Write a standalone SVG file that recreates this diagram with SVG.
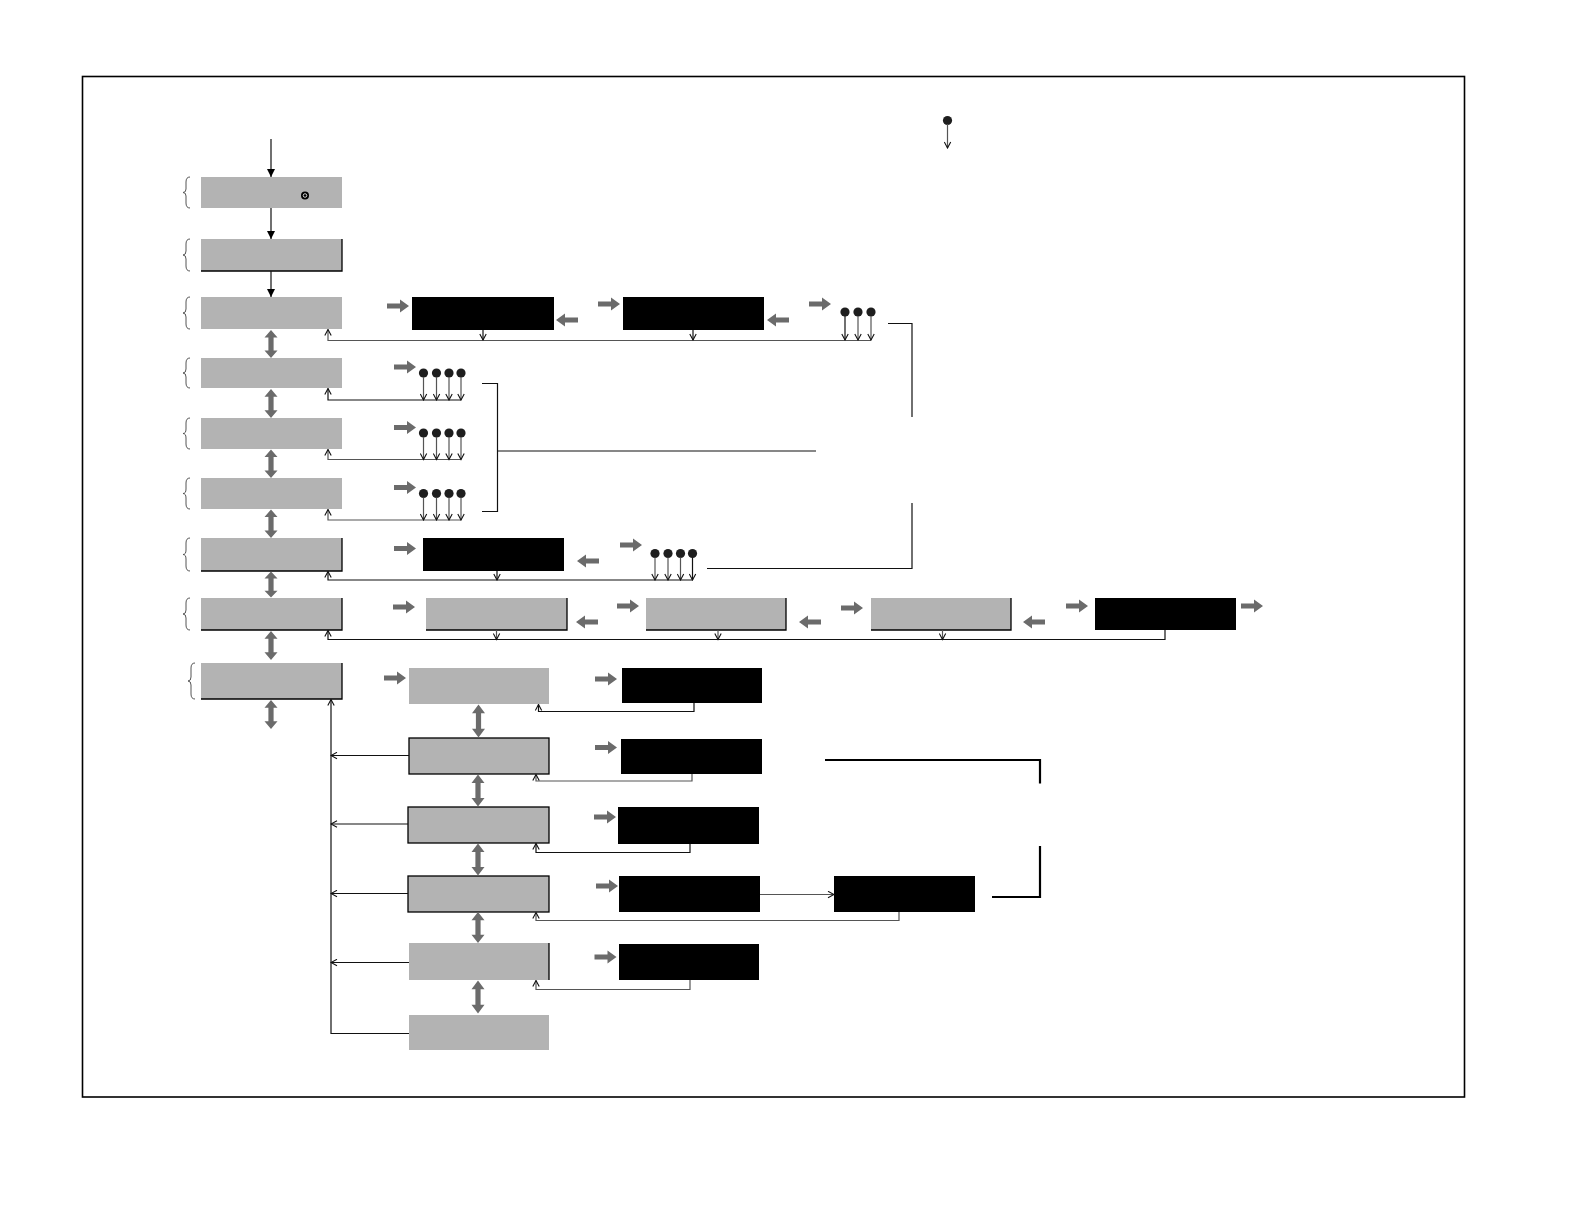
<svg xmlns="http://www.w3.org/2000/svg" width="1584" height="1224" viewBox="0 0 1584 1224">
<style>
.g{fill:#b3b3b3}
.k{fill:#000}
.bd{fill:none;stroke:#000;stroke-width:1.3}
.ln{fill:none;stroke:#111;stroke-width:1.2}
.lg{fill:none;stroke:#555;stroke-width:1.2}
.th{fill:none;stroke:#000;stroke-width:2.2}
.br{fill:none;stroke:#555;stroke-width:1}
.ga{fill:#6b6b6b}
.pin{fill:#1e1e1e}
</style>
<defs>
<marker id="oa" viewBox="0 0 8 8" refX="7" refY="4" markerWidth="8" markerHeight="8" markerUnits="userSpaceOnUse" orient="auto"><path d="M1,0.8 L7,4 L1,7.2" fill="none" stroke="#111" stroke-width="1.1"/></marker>
<marker id="fa" viewBox="0 0 10 10" refX="10" refY="5" markerWidth="10" markerHeight="8" markerUnits="userSpaceOnUse" orient="auto"><path d="M0,0 L10,5 L0,10 Z" fill="#000"/></marker>
<path id="ra" d="M0,-2.6 H13 V-6.5 L22,0 L13,6.5 V2.6 H0 Z"/>
<path id="la" d="M22,-2.6 H9 V-6.5 L0,0 L9,6.5 V2.6 H22 Z"/>
<path id="da" d="M0,0 L6.5,8 H2.6 V22 H6.5 L0,30 L-6.5,22 H-2.6 V8 H-6.5 Z"/>
<g id="pinsym"><circle cx="0" cy="0" r="4.6" class="pin"/></g>
</defs>
<rect x="0" y="0" width="1584" height="1224" fill="#fff"/>
<rect x="82.5" y="76.5" width="1382" height="1020.5" fill="none" stroke="#000" stroke-width="1.6"/>

<!-- legend pin -->
<g id="legend-pin">
<use href="#pinsym" x="947.5" y="120.5"/>
<line x1="947.5" y1="124" x2="947.5" y2="148" class="lg" marker-end="url(#oa)"/>
</g>

<!-- left column nodes -->
<g id="n1"><rect x="201" y="177" width="141" height="31" class="g"/><circle cx="305" cy="195.5" r="4" fill="#000"/><circle cx="305" cy="195.5" r="1.8" fill="none" stroke="#fff" stroke-width="0.8"/><path class="br" d="M190,177 Q186,177 186,182 V189 Q186,192.5 183,192.5 Q186,192.5 186,196 V203 Q186,208 190,208"/></g>
<g id="n2"><rect x="201" y="239" width="141" height="32" class="g"/><path class="bd" d="M342,239 V271 H201"/><path class="br" d="M190,239 Q186,239 186,244 V251 Q186,255 183,255 Q186,255 186,259 V266 Q186,271 190,271"/></g>
<g id="n3"><rect x="201" y="297" width="141" height="32" class="g"/><path class="br" d="M190,297 Q186,297 186,302 V309 Q186,313 183,313 Q186,313 186,317 V324 Q186,329 190,329"/></g>
<g id="n4"><rect x="201" y="358" width="141" height="30" class="g"/><path class="br" d="M190,358 Q186,358 186,363 V369 Q186,373 183,373 Q186,373 186,377 V383 Q186,388 190,388"/></g>
<g id="n5"><rect x="201" y="418" width="141" height="31" class="g"/><path class="br" d="M190,418 Q186,418 186,423 V429 Q186,433.5 183,433.5 Q186,433.5 186,438 V444 Q186,449 190,449"/></g>
<g id="n6"><rect x="201" y="478" width="141" height="31" class="g"/><path class="br" d="M190,478 Q186,478 186,483 V489 Q186,493.5 183,493.5 Q186,493.5 186,498 V504 Q186,509 190,509"/></g>
<g id="n7"><rect x="201" y="538" width="141" height="33" class="g"/><path class="bd" d="M342,538 V571 H201"/><path class="br" d="M190,538 Q186,538 186,543 V550 Q186,554.5 183,554.5 Q186,554.5 186,559 V566 Q186,571 190,571"/></g>
<g id="n8"><rect x="201" y="598" width="141" height="32" class="g"/><path class="bd" d="M342,598 V630 H201"/><path class="br" d="M190,598 Q186,598 186,603 V610 Q186,614 183,614 Q186,614 186,618 V625 Q186,630 190,630"/></g>
<g id="n9"><rect x="201" y="663" width="141" height="36" class="g"/><path class="bd" d="M342,663 V699 H201"/><path class="br" d="M195,663 Q191,663 191,668 V677 Q191,681 188,681 Q191,681 191,685 V694 Q191,699 195,699"/></g>

<!-- row 3 nodes -->
<g id="r3a"><rect x="412" y="297" width="142" height="33" class="k"/></g>
<g id="r3b"><rect x="623" y="297" width="141" height="33" class="k"/></g>
<g id="r7a"><rect x="423" y="538" width="141" height="33" class="k"/></g>
<g id="r8a"><rect x="426" y="598" width="141" height="32" class="g"/><path class="bd" d="M567,598 V630 H426"/></g>
<g id="r8b"><rect x="646" y="598" width="140" height="32" class="g"/><path class="bd" d="M786,598 V630 H646"/></g>
<g id="r8c"><rect x="871" y="598" width="140" height="32" class="g"/><path class="bd" d="M1011,598 V630 H871"/></g>
<g id="r8d"><rect x="1095" y="598" width="141" height="32" class="k"/></g>

<!-- sub column -->
<g id="s1"><rect x="409" y="668" width="140" height="36" class="g"/></g>
<g id="s2"><rect x="409" y="738" width="140" height="36" class="g"/><rect x="409" y="738" width="140" height="36" class="bd"/></g>
<g id="s3"><rect x="408" y="807" width="141" height="36" class="g"/><rect x="408" y="807" width="141" height="36" class="bd"/></g>
<g id="s4"><rect x="408" y="876" width="141" height="36" class="g"/><rect x="408" y="876" width="141" height="36" class="bd"/></g>
<g id="s5"><rect x="409" y="943" width="140" height="37" class="g"/><path class="bd" d="M549,943 V980"/></g>
<g id="s6"><rect x="409" y="1015" width="140" height="35" class="g"/></g>
<g id="k1"><rect x="622" y="668" width="140" height="35" class="k"/></g>
<g id="k2"><rect x="621" y="739" width="141" height="35" class="k"/></g>
<g id="k3"><rect x="618" y="807" width="141" height="37" class="k"/></g>
<g id="k4"><rect x="619" y="876" width="141" height="36" class="k"/></g>
<g id="k5"><rect x="834" y="876" width="141" height="36" class="k"/></g>
<g id="k6"><rect x="619" y="944" width="140" height="36" class="k"/></g>

<!-- pins -->
<g id="pins3">
<use href="#pinsym" x="845" y="312"/><use href="#pinsym" x="858" y="312"/><use href="#pinsym" x="871" y="312"/>
</g>
<g id="pins4">
<use href="#pinsym" x="423.5" y="373"/><use href="#pinsym" x="436.5" y="373"/><use href="#pinsym" x="449" y="373"/><use href="#pinsym" x="461" y="373"/>
</g>
<g id="pins5">
<use href="#pinsym" x="423.5" y="433"/><use href="#pinsym" x="436.5" y="433"/><use href="#pinsym" x="449" y="433"/><use href="#pinsym" x="461" y="433"/>
</g>
<g id="pins6">
<use href="#pinsym" x="423.5" y="493.5"/><use href="#pinsym" x="436.5" y="493.5"/><use href="#pinsym" x="449" y="493.5"/><use href="#pinsym" x="461" y="493.5"/>
</g>
<g id="pins7">
<use href="#pinsym" x="655" y="553.5"/><use href="#pinsym" x="668" y="553.5"/><use href="#pinsym" x="680.5" y="553.5"/><use href="#pinsym" x="692.5" y="553.5"/>
</g>

<!-- connectors -->
<g id="connectors">
<line x1="271" y1="139" x2="271" y2="177" class="ln" marker-end="url(#fa)"/>
<line x1="271" y1="208" x2="271" y2="239" class="ln" marker-end="url(#fa)"/>
<line x1="271" y1="271" x2="271" y2="297" class="ln" marker-end="url(#fa)"/>

<use href="#da" transform="translate(271,330) scale(1,0.93)" class="ga"/>
<use href="#da" transform="translate(271,389) scale(1,0.97)" class="ga"/>
<use href="#da" transform="translate(271,449.5) scale(1,0.95)" class="ga"/>
<use href="#da" transform="translate(271,509.5) scale(1,0.95)" class="ga"/>
<use href="#da" transform="translate(271,571.5) scale(1,0.87)" class="ga"/>
<use href="#da" transform="translate(271,631) scale(1,0.97)" class="ga"/>
<use href="#da" transform="translate(271,700) scale(1,0.97)" class="ga"/>

<use href="#da" transform="translate(478.5,704.5) scale(1,1.1)" class="ga"/>
<use href="#da" transform="translate(478,774.5) scale(1,1.07)" class="ga"/>
<use href="#da" transform="translate(478,843.5) scale(1,1.07)" class="ga"/>
<use href="#da" transform="translate(478,912) scale(1,1.03)" class="ga"/>
<use href="#da" transform="translate(478,980.5) scale(1,1.1)" class="ga"/>

<!-- row 3 -->
<use href="#ra" x="387" y="306" class="ga"/>
<use href="#la" x="556" y="320" class="ga"/>
<use href="#ra" x="598" y="304" class="ga"/>
<use href="#la" x="767" y="320" class="ga"/>
<use href="#ra" x="809" y="304" class="ga"/>
<path d="M871,340.5 H328 V329.5" class="lg" marker-end="url(#oa)"/>
<line x1="483" y1="330" x2="483" y2="340" class="ln" marker-end="url(#oa)"/>
<line x1="693" y1="330" x2="693" y2="340" class="ln" marker-end="url(#oa)"/>
<line x1="845" y1="316" x2="845" y2="340" class="ln" marker-end="url(#oa)"/>
<line x1="858" y1="316" x2="858" y2="340" class="lg" marker-end="url(#oa)"/>
<line x1="871" y1="316" x2="871" y2="340" class="lg" marker-end="url(#oa)"/>

<!-- rows 4-6 -->
<use href="#ra" x="394" y="367" class="ga"/>
<path d="M461,400 H328 V388.5" class="ln" marker-end="url(#oa)"/>
<line x1="423.5" y1="377" x2="423.5" y2="400" class="lg" marker-end="url(#oa)"/>
<line x1="436.5" y1="377" x2="436.5" y2="400" class="lg" marker-end="url(#oa)"/>
<line x1="449" y1="377" x2="449" y2="400" class="lg" marker-end="url(#oa)"/>
<line x1="461" y1="377" x2="461" y2="400" class="lg" marker-end="url(#oa)"/>

<use href="#ra" x="394" y="427.5" class="ga"/>
<path d="M461,459.5 H328 V449.5" class="lg" marker-end="url(#oa)"/>
<line x1="423.5" y1="437" x2="423.5" y2="459.5" class="lg" marker-end="url(#oa)"/>
<line x1="436.5" y1="437" x2="436.5" y2="459.5" class="lg" marker-end="url(#oa)"/>
<line x1="449" y1="437" x2="449" y2="459.5" class="lg" marker-end="url(#oa)"/>
<line x1="461" y1="437" x2="461" y2="459.5" class="lg" marker-end="url(#oa)"/>

<use href="#ra" x="394" y="487.5" class="ga"/>
<path d="M461,520 H328 V509.5" class="lg" marker-end="url(#oa)"/>
<line x1="423.5" y1="497.5" x2="423.5" y2="520" class="lg" marker-end="url(#oa)"/>
<line x1="436.5" y1="497.5" x2="436.5" y2="520" class="lg" marker-end="url(#oa)"/>
<line x1="449" y1="497.5" x2="449" y2="520" class="lg" marker-end="url(#oa)"/>
<line x1="461" y1="497.5" x2="461" y2="520" class="lg" marker-end="url(#oa)"/>

<path d="M482,383.5 H497.5 V511.5 H482" class="ln"/>
<line x1="497.5" y1="451" x2="816" y2="451" class="ln"/>
<path d="M888,323.5 H912 V417" class="ln"/>
<path d="M912,503 V568.5 H707" class="ln"/>

<!-- row 7 -->
<use href="#ra" x="394" y="548.5" class="ga"/>
<use href="#la" x="577" y="561" class="ga"/>
<use href="#ra" x="620" y="545" class="ga"/>
<path d="M692.5,580 H328 V571.5" class="ln" marker-end="url(#oa)"/>
<line x1="497" y1="571" x2="497" y2="580" class="ln" marker-end="url(#oa)"/>
<line x1="655" y1="557.5" x2="655" y2="580" class="lg" marker-end="url(#oa)"/>
<line x1="668" y1="557.5" x2="668" y2="580" class="lg" marker-end="url(#oa)"/>
<line x1="680.5" y1="557.5" x2="680.5" y2="580" class="lg" marker-end="url(#oa)"/>
<line x1="692.5" y1="557.5" x2="692.5" y2="580" class="ln" marker-end="url(#oa)"/>

<!-- row 8 -->
<use href="#ra" x="393" y="607" class="ga"/>
<use href="#la" x="576" y="622" class="ga"/>
<use href="#ra" x="617" y="606" class="ga"/>
<use href="#la" x="799" y="622" class="ga"/>
<use href="#ra" x="841" y="608" class="ga"/>
<use href="#la" x="1023" y="622" class="ga"/>
<use href="#ra" x="1066" y="606" class="ga"/>
<use href="#ra" x="1241" y="606" class="ga"/>
<path d="M1165,630 V639.5 H328 V630.5" class="ln" marker-end="url(#oa)"/>
<line x1="496.5" y1="630" x2="496.5" y2="639.5" class="lg" marker-end="url(#oa)"/>
<line x1="718" y1="630" x2="718" y2="639.5" class="lg" marker-end="url(#oa)"/>
<line x1="942.5" y1="630" x2="942.5" y2="639.5" class="lg" marker-end="url(#oa)"/>

<!-- sub column -->
<use href="#ra" x="384" y="678" class="ga"/>
<use href="#ra" x="595" y="679" class="ga"/>
<use href="#ra" x="595" y="747.5" class="ga"/>
<use href="#ra" x="594" y="817" class="ga"/>
<use href="#ra" x="596" y="886" class="ga"/>
<use href="#ra" x="594.5" y="957" class="ga"/>

<path d="M694,703 V711.5 H538.5 V704.5" class="ln" marker-end="url(#oa)"/>
<path d="M692,774 V781 H536 V774.5" class="lg" marker-end="url(#oa)"/>
<path d="M690,844 V852.5 H536 V843.5" class="ln" marker-end="url(#oa)"/>
<path d="M899,912 V920.5 H536 V912.5" class="lg" marker-end="url(#oa)"/>
<path d="M690,980 V989.5 H536 V980.5" class="lg" marker-end="url(#oa)"/>
<line x1="760" y1="894.5" x2="834" y2="894.5" class="lg" marker-end="url(#oa)"/>

<path d="M409,1033.5 H331 V699.5" class="ln" marker-end="url(#oa)"/>
<line x1="409" y1="755.5" x2="331" y2="755.5" class="ln" marker-end="url(#oa)"/>
<line x1="408" y1="824" x2="331" y2="824" class="ln" marker-end="url(#oa)"/>
<line x1="408" y1="893.5" x2="331" y2="893.5" class="ln" marker-end="url(#oa)"/>
<line x1="409" y1="962.5" x2="331" y2="962.5" class="ln" marker-end="url(#oa)"/>

<path d="M825,760 H1040 V783.5" class="th"/>
<path d="M1040,846 V897 H992" class="th"/>
</g>
</svg>
